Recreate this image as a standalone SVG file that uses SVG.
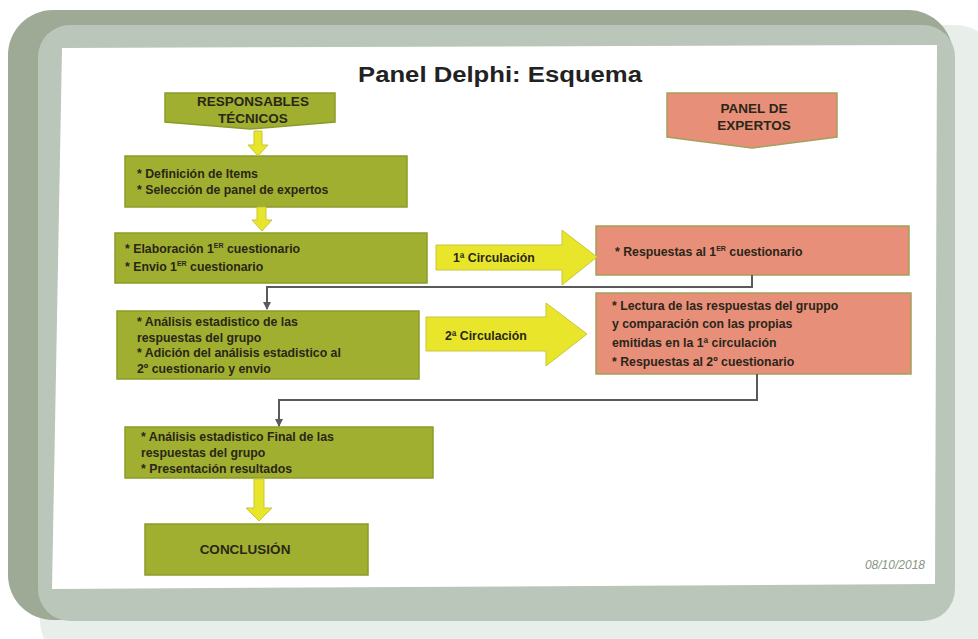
<svg xmlns="http://www.w3.org/2000/svg" width="978" height="639" viewBox="0 0 978 639">
<defs>
<style>
.g{fill:#A0AF30;stroke:#8C9A2A;stroke-width:1.5}
.p{fill:#E88F7A;stroke:#A3A15A;stroke-width:1.5}
.y{fill:#E8E52A;stroke:#C9C63A;stroke-width:1}
.t{font-family:"Liberation Sans",Arial,sans-serif;font-weight:bold;font-size:12.3px;fill:#2A2618}
.h{font-family:"Liberation Sans",Arial,sans-serif;font-weight:bold;font-size:13.5px;fill:#2A2618;text-anchor:middle}
.c{fill:none;stroke:#5A5A5A;stroke-width:2}
.s{font-size:7px}
</style>
<marker id="ah" markerWidth="8" markerHeight="8" refX="7" refY="4" orient="auto" markerUnits="userSpaceOnUse">
<path d="M0,0 L8,4 L0,8 Z" fill="#5A5A5A"/>
</marker>
</defs>
<g id="frame">
<rect x="40" y="25" width="960" height="640" rx="45" fill="#E8EEEA"/>
<rect x="8" y="10" width="945" height="610" rx="45" fill="#9EAA95"/>
<rect x="38" y="25" width="917" height="596" rx="32" fill="#BAC6BA"/>
<polygon points="62,48 937,45 935,584 52,589" fill="#FFFFFF"/>
</g>
<text x="500" y="82" font-family="Liberation Sans,Arial,sans-serif" font-weight="bold" font-size="22" fill="#222" text-anchor="middle" textLength="284" lengthAdjust="spacingAndGlyphs">Panel Delphi: Esquema</text>
<g id="responsables">
<polygon class="g" points="165,93 335,93 335,122 250,129 165,122"/>
<text class="h" x="253" y="106">RESPONSABLES</text>
<text class="h" x="253" y="123">TÉCNICOS</text>
</g>
<g id="panel-expertos">
<polygon class="p" points="667,93 837,93 837,137 752,148 667,137"/>
<text class="h" x="754" y="113">PANEL DE</text>
<text class="h" x="754" y="130">EXPERTOS</text>
</g>
<g id="definicion">
<rect class="g" x="125" y="156" width="282" height="51"/>
<text class="t" x="137" y="178">* Definición de Items</text>
<text class="t" x="137" y="194">* Selección de panel de expertos</text>
</g>
<g id="elaboracion">
<rect class="g" x="115" y="233" width="312" height="50"/>
<text class="t" x="125" y="253">* Elaboración 1<tspan class="s" dy="-5">ER</tspan><tspan dy="5"> cuestionario</tspan></text>
<text class="t" x="125" y="271">* Envio 1<tspan class="s" dy="-5">ER</tspan><tspan dy="5"> cuestionario</tspan></text>
</g>
<g id="analisis">
<rect class="g" x="117" y="311" width="302" height="68"/>
<text class="t" x="137" y="326">* Análisis estadistico de las</text>
<text class="t" x="137" y="342">respuestas del grupo</text>
<text class="t" x="137" y="357">* Adición del análisis estadistico al</text>
<text class="t" x="137" y="373">2º cuestionario y envio</text>
</g>
<g id="analisis-final">
<rect class="g" x="125" y="427" width="308" height="51"/>
<text class="t" x="141" y="441">* Análisis estadistico Final de las</text>
<text class="t" x="141" y="457">respuestas del grupo</text>
<text class="t" x="141" y="473">* Presentación resultados</text>
</g>
<g id="conclusion">
<rect class="g" x="145" y="524" width="223" height="51"/>
<text class="h" x="245" y="554" font-size="15">CONCLUSIÓN</text>
</g>
<g id="respuestas1">
<rect class="p" x="596" y="226" width="313" height="49"/>
<text class="t" x="615" y="256">* Respuestas al 1<tspan class="s" dy="-5">ER</tspan><tspan dy="5"> cuestionario</tspan></text>
</g>
<g id="respuestas2">
<rect class="p" x="596" y="293" width="315" height="81"/>
<text class="t" x="612" y="310">* Lectura de las respuestas del gruppo</text>
<text class="t" x="612" y="328">y comparación con las propias</text>
<text class="t" x="612" y="347">emitidas en la 1ª circulación</text>
<text class="t" x="612" y="366">* Respuestas al 2º cuestionario</text>
</g>
<g id="connectors">
<polygon class="y" points="254,131 262,131 262,145 268,145 258,156 248,145 254,145"/>
<polygon class="y" points="257,207 266,207 266,220 272,220 262,231 252,220 257,220"/>
<polygon class="y" points="254,479 264,479 264,508 272,508 259,521 246,508 254,508"/>
<polygon class="y" points="436,245 562,245 562,230 597,257 562,285 562,270 436,270"/>
<polygon class="y" points="426,317 546,317 546,303 587,334 546,366 546,351 426,351"/>
<text class="t" x="453" y="262">1ª Circulación</text>
<text class="t" x="445" y="340">2ª Circulación</text>
<polyline class="c" points="752,275 752,287 267,287 267,309" marker-end="url(#ah)"/>
<polyline class="c" points="757,374 757,400 279,400 279,426" marker-end="url(#ah)"/>
</g>
<text x="925" y="569" font-family="Liberation Sans,Arial,sans-serif" font-style="italic" font-size="12" fill="#8A9585" text-anchor="end">08/10/2018</text>
</svg>
